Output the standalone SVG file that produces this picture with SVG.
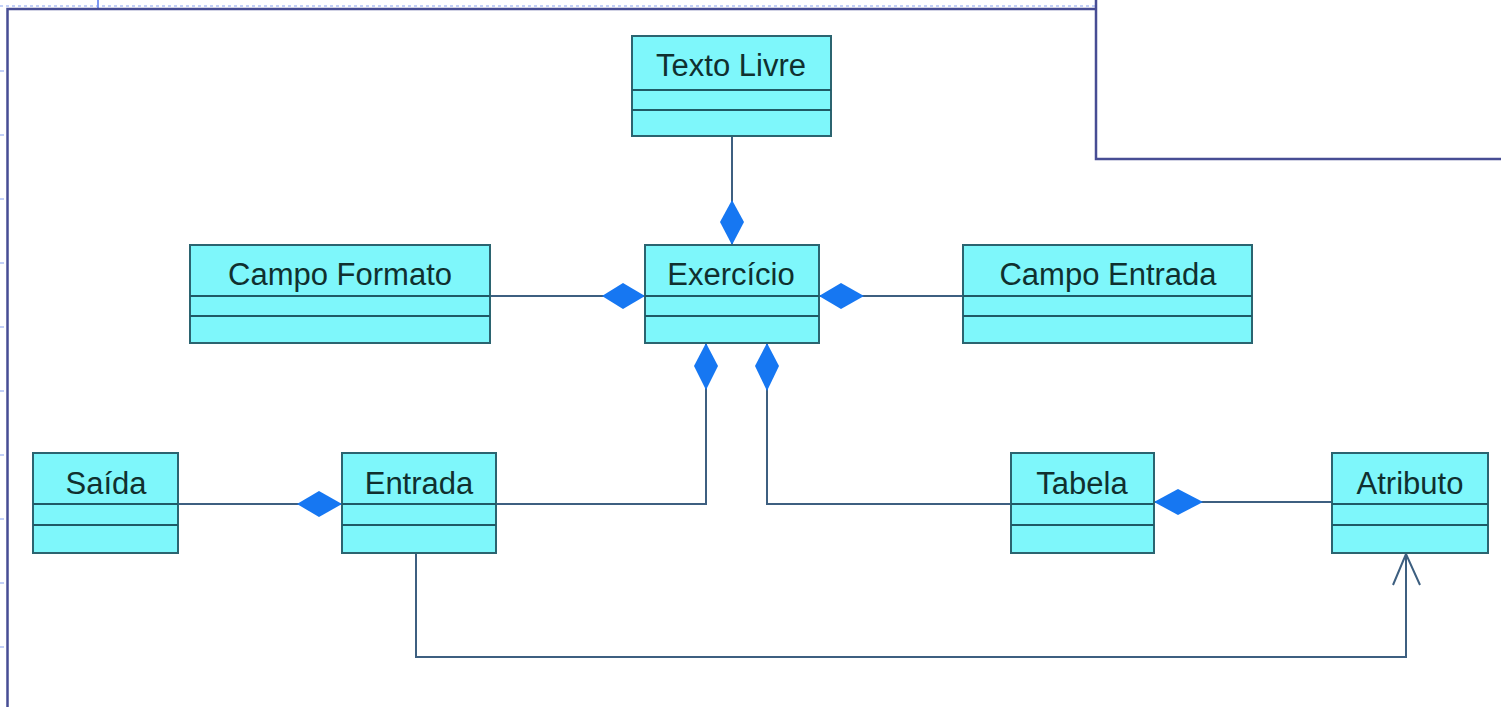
<svg xmlns="http://www.w3.org/2000/svg" width="1501" height="707" viewBox="0 0 1501 707">
<style>
.box{fill:#7ef7fb;stroke:#2b6470;stroke-width:2}
.div{stroke:#1f5a66;stroke-width:2}
.lbl{font-family:"Liberation Sans",Arial,sans-serif;font-size:31px;fill:#10302f;text-anchor:middle}
.con{fill:none;stroke:#3d5f80;stroke-width:2}
.dia{fill:#1677f2;stroke:none}
.frame{fill:none;stroke:#474d94;stroke-width:2.5}
.grid{stroke:#c3d0f7;stroke-width:2;stroke-dasharray:3 3}
</style>
<rect width="1501" height="707" fill="#ffffff"/>
<g id="background">
<line class="grid" x1="0" y1="6" x2="1096" y2="6"/>
<line x1="98" y1="0" x2="98" y2="8" stroke="#7d98f5" stroke-width="2"/>
<g stroke="#c3d0f7" stroke-width="2">
<line x1="0" y1="71" x2="4" y2="71"/><line x1="0" y1="135" x2="4" y2="135"/><line x1="0" y1="199" x2="4" y2="199"/><line x1="0" y1="263" x2="4" y2="263"/><line x1="0" y1="327" x2="4" y2="327"/><line x1="0" y1="391" x2="4" y2="391"/><line x1="0" y1="455" x2="4" y2="455"/><line x1="0" y1="519" x2="4" y2="519"/><line x1="0" y1="583" x2="4" y2="583"/><line x1="0" y1="647" x2="4" y2="647"/>
</g>
<path class="frame" d="M7.5,707 V9 H1096 M1096,0 V159 H1501"/>
</g>
<g id="connectors">
<path class="con" d="M732,136 V245"/>
<path class="con" d="M490,296 H645"/>
<path class="con" d="M819,296 H963"/>
<path class="con" d="M706,343 V504 H496"/>
<path class="con" d="M767,343 V504 H1011"/>
<path class="con" d="M178,504 H342"/>
<path class="con" d="M1154,502 H1332"/>
<path class="con" d="M416,553 V657 H1406 V553"/>
<path class="con" d="M1393,585 L1406,554 L1420,585"/>
<polygon class="dia" points="732,200 744,222 732,245 720,222"/>
<polygon class="dia" points="602,296 623,283 645,296 623,309"/>
<polygon class="dia" points="819,296 841,283 864,296 841,309"/>
<polygon class="dia" points="706,343 718,366 706,390 694,366"/>
<polygon class="dia" points="767,343 779,366 767,391 755,366"/>
<polygon class="dia" points="297,504 319,491 342,504 319,517"/>
<polygon class="dia" points="1154,502 1178,489 1203,502 1178,515"/>
</g>
<g id="texto-livre">
<rect class="box" x="632" y="36" width="199" height="100"/>
<line class="div" x1="632" y1="90" x2="831" y2="90"/><line class="div" x1="632" y1="110" x2="831" y2="110"/>
<text class="lbl" x="731" y="76">Texto Livre</text>
</g>
<g id="exercicio">
<rect class="box" x="645" y="245" width="174" height="98"/>
<line class="div" x1="645" y1="296" x2="819" y2="296"/><line class="div" x1="645" y1="316" x2="819" y2="316"/>
<text class="lbl" x="731" y="285">Exercício</text>
</g>
<g id="campo-formato">
<rect class="box" x="190" y="245" width="300" height="98"/>
<line class="div" x1="190" y1="296" x2="490" y2="296"/><line class="div" x1="190" y1="316" x2="490" y2="316"/>
<text class="lbl" x="340" y="285">Campo Formato</text>
</g>
<g id="campo-entrada">
<rect class="box" x="963" y="245" width="289" height="98"/>
<line class="div" x1="963" y1="296" x2="1252" y2="296"/><line class="div" x1="963" y1="316" x2="1252" y2="316"/>
<text class="lbl" x="1108" y="285">Campo Entrada</text>
</g>
<g id="saida">
<rect class="box" x="33" y="453" width="145" height="100"/>
<line class="div" x1="33" y1="504" x2="178" y2="504"/><line class="div" x1="33" y1="525" x2="178" y2="525"/>
<text class="lbl" x="106" y="494">Saída</text>
</g>
<g id="entrada">
<rect class="box" x="342" y="453" width="154" height="100"/>
<line class="div" x1="342" y1="504" x2="496" y2="504"/><line class="div" x1="342" y1="525" x2="496" y2="525"/>
<text class="lbl" x="419" y="494">Entrada</text>
</g>
<g id="tabela">
<rect class="box" x="1011" y="453" width="143" height="100"/>
<line class="div" x1="1011" y1="504" x2="1154" y2="504"/><line class="div" x1="1011" y1="525" x2="1154" y2="525"/>
<text class="lbl" x="1082" y="494">Tabela</text>
</g>
<g id="atributo">
<rect class="box" x="1332" y="453" width="156" height="100"/>
<line class="div" x1="1332" y1="504" x2="1488" y2="504"/><line class="div" x1="1332" y1="525" x2="1488" y2="525"/>
<text class="lbl" x="1410" y="494">Atributo</text>
</g>
</svg>
